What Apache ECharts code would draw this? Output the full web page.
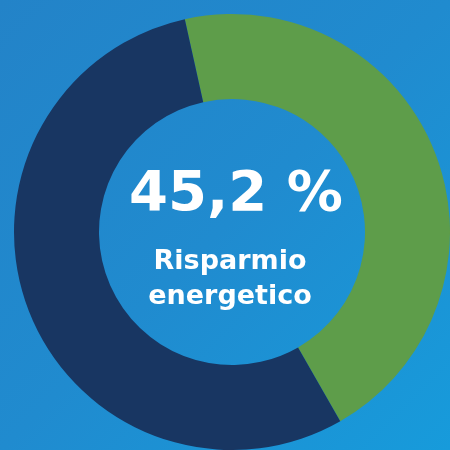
<!DOCTYPE html>
<html>
<head>
<meta charset="utf-8">
<script src="https://cdn.jsdelivr.net/npm/echarts@6/dist/echarts.min.js"></script>
<style>
  html, body { margin: 0; padding: 0; }
  #chart { width: 450px; height: 450px; }
</style>
</head>
<body>
<div id="chart"></div>
<script>
// percentage of energy saved vs remainder
const names = ['Risparmio energetico', 'Resto'];
const values = [45.2, 54.8];
const colors = ['#5e9d4a', '#183662'];
const centerValue = '45,2 %';
const centerLines = ['Risparmio', 'energetico'];

const myChart = echarts.init(document.getElementById('chart'));

const textStyle = (text, size, x, y) => ({
    type: 'text',
    x: x,
    y: y,
    style: {
        text: text,
        fill: '#ffffff',
        font: 'bold ' + size + 'px "DejaVu Sans", sans-serif',
        textAlign: 'center',
        verticalAlign: 'middle'
    }
});

const option = {
    backgroundColor: {
        type: 'linear', x: 0, y: 0, x2: 1, y2: 1,
        colorStops: [
            { offset: 0, color: '#2383c8' },
            { offset: 0.5, color: '#208bcf' },
            { offset: 1, color: '#179bdb' }
        ]
    },
    animation: false,
    graphic: [
        textStyle(centerValue, 56, 236, 195),
        textStyle(centerLines[0], 27, 230, 262),
        textStyle(centerLines[1], 27, 230, 297)
    ],
    series: [
        {
            type: 'pie',
            center: [232, 232],
            radius: [133, 218],
            startAngle: 102.5,
            clockwise: true,
            silent: true,
            label: { show: false },
            labelLine: { show: false },
            data: names.map((n, i) => ({
                name: n,
                value: values[i],
                itemStyle: { color: colors[i] }
            }))
        }
    ]
};

myChart.setOption(option);
</script>
</body>
</html>
